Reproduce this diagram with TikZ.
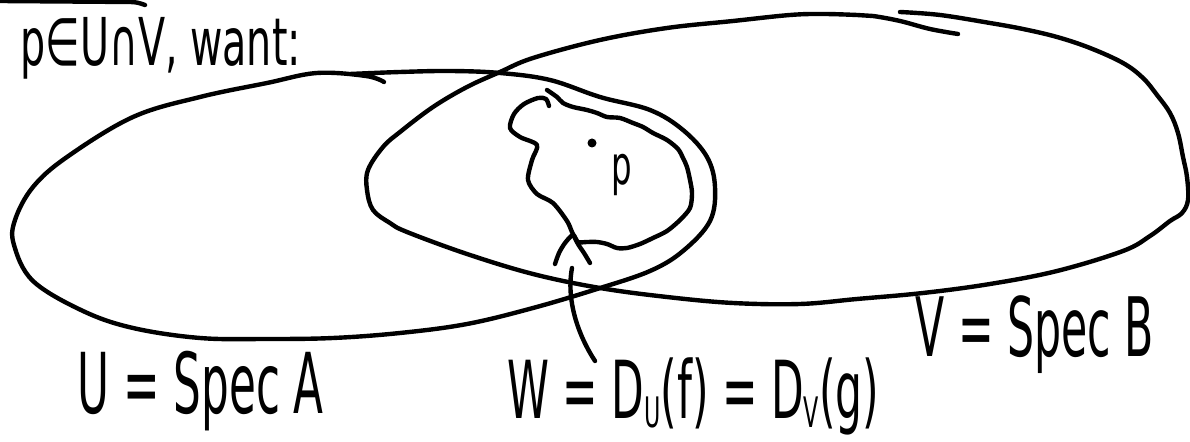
\documentclass[tikz,border=0pt]{standalone}
\usepackage{fontspec}
\setmainfont{DejaVu Sans}
\newcommand{\squash}[2]{\scalebox{#1}[1]{#2}}
\newcommand{\lowsub}[1]{\raisebox{-4.5pt}{\fontsize{21}{21}\selectfont #1}}

\begin{document}
\begin{tikzpicture}[x=0.5pt,y=-0.5pt,
  stroke/.style={line width=2.2pt,line cap=round,line join=round},
  hand/.style={inner sep=0pt,anchor=base west,font=\fontsize{#1}{#1}\selectfont}]

\useasboundingbox (0,0) rectangle (1190,442);

% leftover stroke at the top edge
\draw[stroke] (0,1) -- (130,2) to[out=0,in=160] (145,5);

% U = Spec A
\draw[stroke] plot[smooth,tension=0.6] coordinates {
  (384,82) (366,76) (317,73) (267,83) (200,97) (133,117) (67,157) (33,187)
  (15,220) (14,245) (33,281) (83,311) (133,328) (200,338) (267,339) (333,338)
  (400,333) (467,324) (533,308) (597,289) (650,271) (683,251) (710,221)
  (715,187) (707,157) (683,130) (650,110) (600,97) (550,80) (500,73)
  (450,71) (400,72) (350,74)};

% V = Spec B
\draw[stroke] plot[smooth,tension=0.6] coordinates {
  (958,34) (930,29) (900,21) (873,16) (857,15) (823,14) (790,15) (733,21)
  (667,28) (600,40) (533,58) (500,72) (467,87) (433,107) (400,132) (383,147)
  (368,170) (367,190) (373,210) (390,223) (407,232) (467,254) (533,274)
  (600,288) (667,297) (733,303) (800,304) (857,299) (923,293) (990,284)
  (1057,271) (1123,251) (1150,236) (1170,221) (1182,213) (1188,200)
  (1187,177) (1183,157) (1178,133) (1170,113) (1157,95) (1143,78) (1123,63)
  (1090,48) (1057,37) (1023,29) (990,23) (940,15) (900,12)};

% W, the wiggly neighbourhood of p
\draw[stroke] plot[smooth,tension=0.5] coordinates {
  (549,106) (546,99) (538,98) (524,104) (514,114) (510,128) (520,137)
  (537,145) (532,160) (528,180) (537,194) (553,203) (567,221) (572,232)
  (578,244) (584,253) (590,263)};
\draw[stroke] plot[smooth,tension=0.5] coordinates {
  (555,264) (559,253) (565,243) (573,235) (578,242) (587,242) (597,242)
  (607,244) (617,248) (627,248) (640,244) (653,238) (667,231) (680,220)
  (690,208) (692,193) (690,180) (687,167) (683,158) (678,149) (667,140)
  (653,133) (643,127) (633,123) (620,118) (607,117) (597,113) (587,110)
  (573,107) (563,103) (557,97) (547,90)};

\node[circle,fill,inner sep=0pt,minimum size=4.5pt] (pt) at (592,143) {};
\node[hand=27] (plab) at (611,185) {\squash{.6}{p}};

% labels
\node[hand=33] (want) at (20,66) {\squash{.6}{p∈U∩V, want:}};
\node[hand=42] (ulab) at (77,414) {\squash{.52}{U = Spec A}};
\node[hand=40] (wlab) at (507,419) {\squash{.53}{W = D\lowsub{U}(f) = D\lowsub{V}(g)}};
\node[hand=41] (vlab) at (915,357) {\squash{.52}{V = Spec B}};

% pointer from W to its name
\coordinate (wtip) at (572,268);
\coordinate (wend) at (595,361);
\draw[stroke] (wtip) .. controls (566,300) and (578,335) .. (wend);

\end{tikzpicture}
\end{document}
